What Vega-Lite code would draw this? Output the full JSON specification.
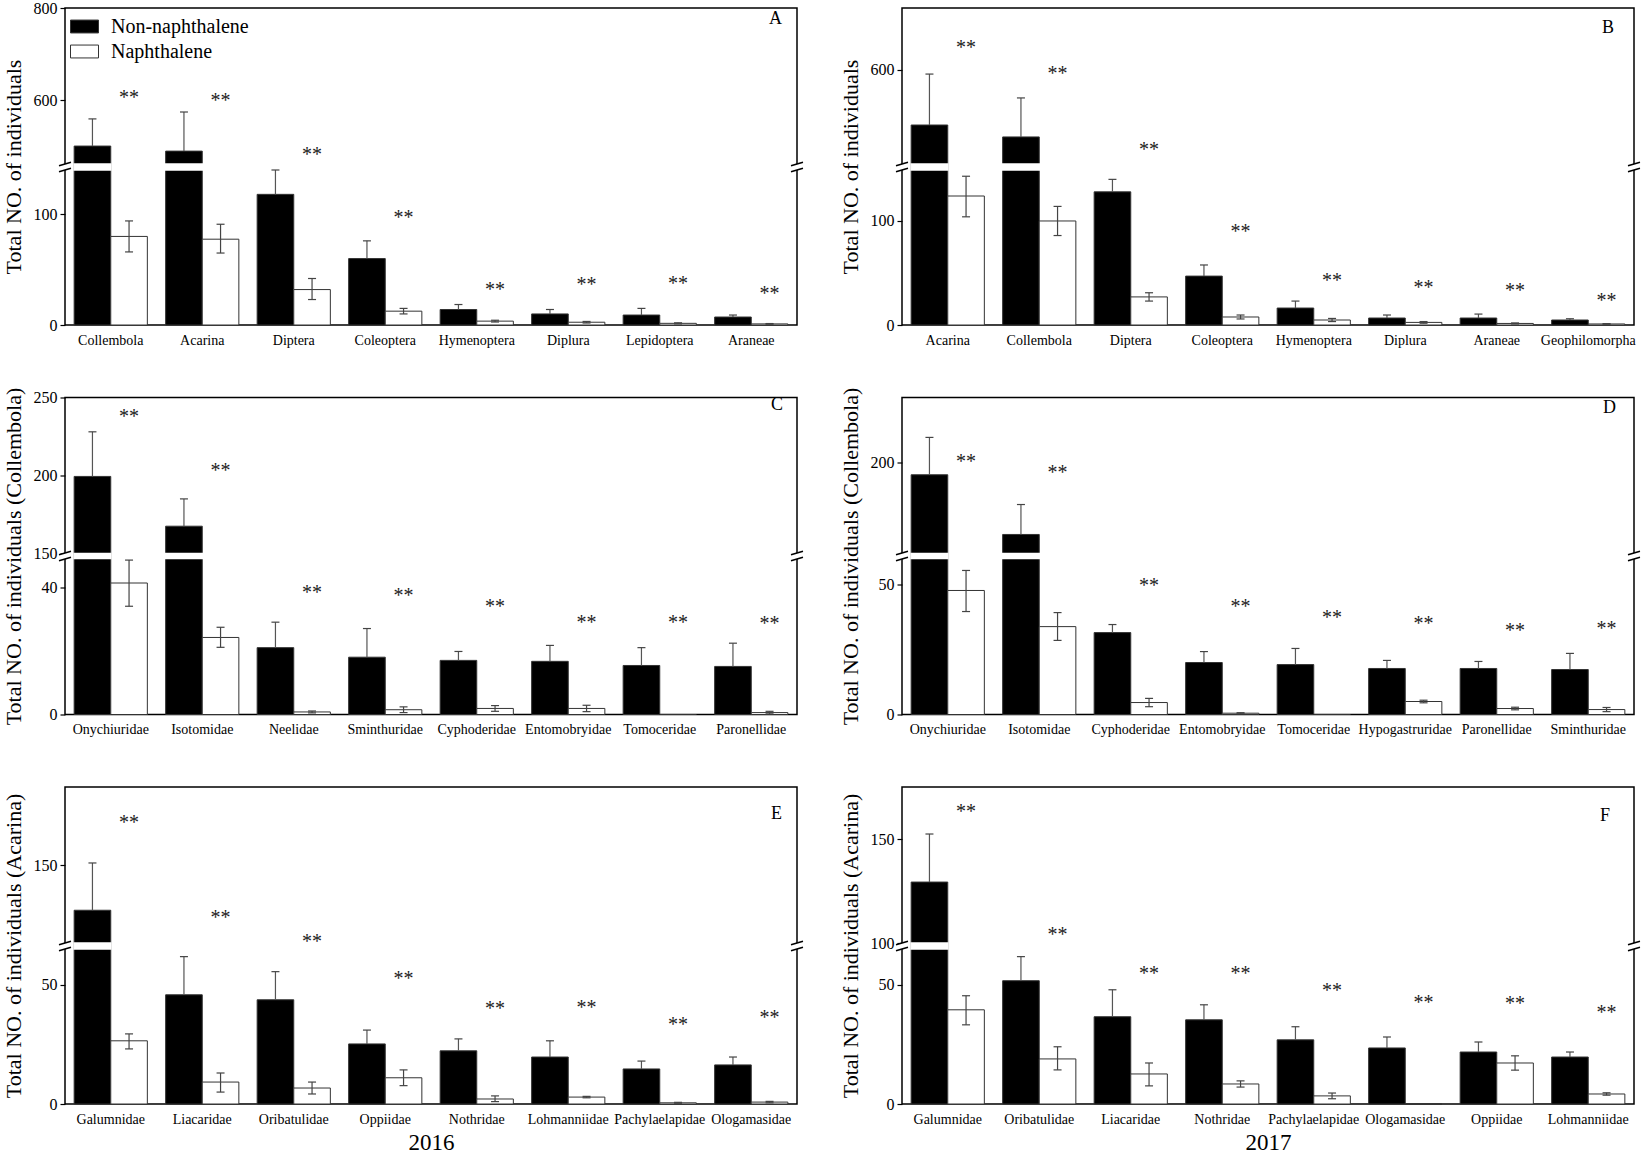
{
  "$schema": "https://vega.github.io/schema/vega-lite/v6.json",
  "padding": {"left": 1, "top": -1, "right": 0, "bottom": 0},
  "config": {
    "font": "Liberation Serif",
    "view": {"stroke": "black", "strokeWidth": 1.5},
    "axis": {"titleFont": "Liberation Serif", "labelFont": "Liberation Serif"},
    "axisY": {"grid": false, "domain": false, "labelFontSize": 16, "labelColor": "black", "labelFont": "Liberation Serif", "tickSize": 5, "tickColor": "black", "tickWidth": 1.2, "labelPadding": 3, "titleFontSize": 22, "titleFontWeight": "normal", "titleColor": "black", "titleFont": "Liberation Serif", "titlePadding": 8},
    "axisX": {"grid": false, "domain": false, "ticks": false, "tickSize": 0, "labelFontSize": 14, "labelColor": "black", "labelFont": "Liberation Serif", "labelPadding": 8, "labelAngle": 0, "titleFontSize": 23, "titleFontWeight": "normal", "titleColor": "black", "titleFont": "Liberation Serif", "titlePadding": 5},
    "title": {"font": "Liberation Serif", "fontSize": 18, "fontWeight": "normal", "color": "black", "anchor": "end", "frame": "group"}
  },
  "datasets": {
    "A": [
      {"taxon": "Collembola", "grp": "Non-naphthalene", "v": 500, "hi": 559},
      {"taxon": "Collembola", "grp": "Naphthalene", "v": 80, "hi": 94, "lo": 66, "star": 613},
      {"taxon": "Acarina", "grp": "Non-naphthalene", "v": 489, "hi": 574},
      {"taxon": "Acarina", "grp": "Naphthalene", "v": 77.5, "hi": 91, "lo": 65, "star": 607},
      {"taxon": "Diptera", "grp": "Non-naphthalene", "v": 118, "hi": 140},
      {"taxon": "Diptera", "grp": "Naphthalene", "v": 32, "hi": 42, "lo": 23, "star": 489},
      {"taxon": "Coleoptera", "grp": "Non-naphthalene", "v": 60, "hi": 76},
      {"taxon": "Coleoptera", "grp": "Naphthalene", "v": 12.5, "hi": 15, "lo": 10, "star": 100},
      {"taxon": "Hymenoptera", "grp": "Non-naphthalene", "v": 14, "hi": 18.5},
      {"taxon": "Hymenoptera", "grp": "Naphthalene", "v": 3.5, "hi": 4.3, "lo": 2.7, "star": 35},
      {"taxon": "Diplura", "grp": "Non-naphthalene", "v": 10, "hi": 14},
      {"taxon": "Diplura", "grp": "Naphthalene", "v": 2.5, "hi": 3.2, "lo": 1.8, "star": 39.5},
      {"taxon": "Lepidoptera", "grp": "Non-naphthalene", "v": 9, "hi": 15},
      {"taxon": "Lepidoptera", "grp": "Naphthalene", "v": 1.5, "hi": 2, "lo": 1, "star": 40.5},
      {"taxon": "Araneae", "grp": "Non-naphthalene", "v": 7.2, "hi": 9},
      {"taxon": "Araneae", "grp": "Naphthalene", "v": 1, "hi": 1.3, "lo": 0.7, "star": 32}
    ],
    "B": [
      {"taxon": "Acarina", "grp": "Non-naphthalene", "v": 480, "hi": 591},
      {"taxon": "Acarina", "grp": "Naphthalene", "v": 124, "hi": 143, "lo": 104, "star": 657},
      {"taxon": "Collembola", "grp": "Non-naphthalene", "v": 454, "hi": 539},
      {"taxon": "Collembola", "grp": "Naphthalene", "v": 100, "hi": 114, "lo": 86, "star": 600},
      {"taxon": "Diptera", "grp": "Non-naphthalene", "v": 128, "hi": 140},
      {"taxon": "Diptera", "grp": "Naphthalene", "v": 27, "hi": 31, "lo": 23, "star": 434},
      {"taxon": "Coleoptera", "grp": "Non-naphthalene", "v": 47, "hi": 57.7},
      {"taxon": "Coleoptera", "grp": "Naphthalene", "v": 7.7, "hi": 9.6, "lo": 5.8, "star": 93},
      {"taxon": "Hymenoptera", "grp": "Non-naphthalene", "v": 16.3, "hi": 23},
      {"taxon": "Hymenoptera", "grp": "Naphthalene", "v": 4.8, "hi": 6.3, "lo": 3.3, "star": 46},
      {"taxon": "Diplura", "grp": "Non-naphthalene", "v": 6.7, "hi": 9.6},
      {"taxon": "Diplura", "grp": "Naphthalene", "v": 2.5, "hi": 3.3, "lo": 1.7, "star": 39.5},
      {"taxon": "Araneae", "grp": "Non-naphthalene", "v": 6.7, "hi": 10.5},
      {"taxon": "Araneae", "grp": "Naphthalene", "v": 1.5, "hi": 2, "lo": 1, "star": 36.5},
      {"taxon": "Geophilomorpha", "grp": "Non-naphthalene", "v": 4.8, "hi": 6},
      {"taxon": "Geophilomorpha", "grp": "Naphthalene", "v": 1, "hi": 1.3, "lo": 0.7, "star": 27}
    ],
    "C": [
      {"taxon": "Onychiuridae", "grp": "Non-naphthalene", "v": 199.4, "hi": 228},
      {"taxon": "Onychiuridae", "grp": "Naphthalene", "v": 41.3, "hi": 48.5, "lo": 34, "star": 240},
      {"taxon": "Isotomidae", "grp": "Non-naphthalene", "v": 167.5, "hi": 185},
      {"taxon": "Isotomidae", "grp": "Naphthalene", "v": 24.2, "hi": 27.4, "lo": 21.1, "star": 205.5},
      {"taxon": "Neelidae", "grp": "Non-naphthalene", "v": 21, "hi": 29},
      {"taxon": "Neelidae", "grp": "Naphthalene", "v": 0.8, "hi": 1.1, "lo": 0.5, "star": 39.4},
      {"taxon": "Sminthuridae", "grp": "Non-naphthalene", "v": 18, "hi": 27},
      {"taxon": "Sminthuridae", "grp": "Naphthalene", "v": 1.5, "hi": 2.4, "lo": 0.6, "star": 38.4},
      {"taxon": "Cyphoderidae", "grp": "Non-naphthalene", "v": 17, "hi": 19.8},
      {"taxon": "Cyphoderidae", "grp": "Naphthalene", "v": 1.9, "hi": 2.8, "lo": 1, "star": 35},
      {"taxon": "Entomobryidae", "grp": "Non-naphthalene", "v": 16.7, "hi": 21.7},
      {"taxon": "Entomobryidae", "grp": "Naphthalene", "v": 1.9, "hi": 2.9, "lo": 0.9, "star": 30},
      {"taxon": "Tomoceridae", "grp": "Non-naphthalene", "v": 15.4, "hi": 21},
      {"taxon": "Tomoceridae", "grp": "Naphthalene", "v": 0, "star": 30},
      {"taxon": "Paronellidae", "grp": "Non-naphthalene", "v": 15.1, "hi": 22.4},
      {"taxon": "Paronellidae", "grp": "Naphthalene", "v": 0.6, "hi": 1, "lo": 0.2, "star": 29.6}
    ],
    "D": [
      {"taxon": "Onychiuridae", "grp": "Non-naphthalene", "v": 193.4, "hi": 214},
      {"taxon": "Onychiuridae", "grp": "Naphthalene", "v": 47.7, "hi": 55.4, "lo": 39.6, "star": 202.7},
      {"taxon": "Isotomidae", "grp": "Non-naphthalene", "v": 160.5, "hi": 177},
      {"taxon": "Isotomidae", "grp": "Naphthalene", "v": 33.8, "hi": 39.2, "lo": 28.5, "star": 196.7},
      {"taxon": "Cyphoderidae", "grp": "Non-naphthalene", "v": 31.5, "hi": 34.6},
      {"taxon": "Cyphoderidae", "grp": "Naphthalene", "v": 4.6, "hi": 6.2, "lo": 3, "star": 50.8},
      {"taxon": "Entomobryidae", "grp": "Non-naphthalene", "v": 20, "hi": 24.2},
      {"taxon": "Entomobryidae", "grp": "Naphthalene", "v": 0.5, "hi": 0.7, "lo": 0.3, "star": 42.7},
      {"taxon": "Tomoceridae", "grp": "Non-naphthalene", "v": 19.2, "hi": 25.4},
      {"taxon": "Tomoceridae", "grp": "Naphthalene", "v": 0, "star": 38.8},
      {"taxon": "Hypogastruridae", "grp": "Non-naphthalene", "v": 17.7, "hi": 20.8},
      {"taxon": "Hypogastruridae", "grp": "Naphthalene", "v": 5, "hi": 5.5, "lo": 4.5, "star": 36.5},
      {"taxon": "Paronellidae", "grp": "Non-naphthalene", "v": 17.7, "hi": 20.4},
      {"taxon": "Paronellidae", "grp": "Naphthalene", "v": 2.3, "hi": 2.8, "lo": 1.8, "star": 33.5},
      {"taxon": "Sminthuridae", "grp": "Non-naphthalene", "v": 17.3, "hi": 23.5},
      {"taxon": "Sminthuridae", "grp": "Naphthalene", "v": 1.9, "hi": 2.7, "lo": 1.1, "star": 34.6}
    ],
    "E": [
      {"taxon": "Galumnidae", "grp": "Non-naphthalene", "v": 121, "hi": 151.3},
      {"taxon": "Galumnidae", "grp": "Naphthalene", "v": 26.5, "hi": 29.4, "lo": 23.1, "star": 179.5},
      {"taxon": "Liacaridae", "grp": "Non-naphthalene", "v": 45.8, "hi": 61.8},
      {"taxon": "Liacaridae", "grp": "Naphthalene", "v": 9.2, "hi": 13, "lo": 5, "star": 118.6},
      {"taxon": "Oribatulidae", "grp": "Non-naphthalene", "v": 43.7, "hi": 55.5},
      {"taxon": "Oribatulidae", "grp": "Naphthalene", "v": 6.7, "hi": 9.2, "lo": 4.2, "star": 103},
      {"taxon": "Oppiidae", "grp": "Non-naphthalene", "v": 25.2, "hi": 31},
      {"taxon": "Oppiidae", "grp": "Naphthalene", "v": 11, "hi": 14.3, "lo": 7.7, "star": 54.2},
      {"taxon": "Nothridae", "grp": "Non-naphthalene", "v": 22.3, "hi": 27.3},
      {"taxon": "Nothridae", "grp": "Naphthalene", "v": 2.1, "hi": 3.4, "lo": 1, "star": 41.6},
      {"taxon": "Lohmanniidae", "grp": "Non-naphthalene", "v": 19.7, "hi": 26.5},
      {"taxon": "Lohmanniidae", "grp": "Naphthalene", "v": 2.9, "hi": 3.2, "lo": 2.6, "star": 42},
      {"taxon": "Pachylaelapidae", "grp": "Non-naphthalene", "v": 14.7, "hi": 18},
      {"taxon": "Pachylaelapidae", "grp": "Naphthalene", "v": 0.5, "hi": 0.7, "lo": 0.3, "star": 34.9},
      {"taxon": "Ologamasidae", "grp": "Non-naphthalene", "v": 16.4, "hi": 19.7},
      {"taxon": "Ologamasidae", "grp": "Naphthalene", "v": 0.8, "hi": 1.1, "lo": 0.5, "star": 37.8}
    ],
    "F": [
      {"taxon": "Galumnidae", "grp": "Non-naphthalene", "v": 129.3, "hi": 152.4},
      {"taxon": "Galumnidae", "grp": "Naphthalene", "v": 39.5, "hi": 45.4, "lo": 33.2, "star": 165},
      {"taxon": "Oribatulidae", "grp": "Non-naphthalene", "v": 51.7, "hi": 61.8},
      {"taxon": "Oribatulidae", "grp": "Naphthalene", "v": 18.9, "hi": 24, "lo": 14.3, "star": 106},
      {"taxon": "Liacaridae", "grp": "Non-naphthalene", "v": 36.6, "hi": 47.9},
      {"taxon": "Liacaridae", "grp": "Naphthalene", "v": 12.6, "hi": 17.2, "lo": 7.6, "star": 56.3},
      {"taxon": "Nothridae", "grp": "Non-naphthalene", "v": 35.3, "hi": 41.6},
      {"taxon": "Nothridae", "grp": "Naphthalene", "v": 8.4, "hi": 9.7, "lo": 7.1, "star": 56.3},
      {"taxon": "Pachylaelapidae", "grp": "Non-naphthalene", "v": 26.9, "hi": 32.4},
      {"taxon": "Pachylaelapidae", "grp": "Naphthalene", "v": 3.4, "hi": 4.6, "lo": 2.2, "star": 49.2},
      {"taxon": "Ologamasidae", "grp": "Non-naphthalene", "v": 23.5, "hi": 28.1},
      {"taxon": "Ologamasidae", "grp": "Naphthalene", "v": 0, "star": 44.1},
      {"taxon": "Oppiidae", "grp": "Non-naphthalene", "v": 21.8, "hi": 26},
      {"taxon": "Oppiidae", "grp": "Naphthalene", "v": 17.2, "hi": 20.2, "lo": 14.2, "star": 43.7},
      {"taxon": "Lohmanniidae", "grp": "Non-naphthalene", "v": 19.7, "hi": 21.8},
      {"taxon": "Lohmanniidae", "grp": "Naphthalene", "v": 4.2, "hi": 4.7, "lo": 3.7, "star": 39.9}
    ]
  },
  "columns": 2,
  "bounds": "flush",
  "spacing": {"row": 72.5, "column": 105},
  "resolve": {"scale": {"x": "independent", "y": "independent", "fill": "independent", "xOffset": "independent"}, "legend": {"fill": "independent"}},
  "concat": [
    {
      "width": 732, "height": 317,
      "title": {"text": "A", "offset": -28, "dx": -15},
      "layer": [
        {
          "data": {"name": "A"},
          "encoding": {
            "x": {"field": "taxon", "type": "nominal", "scale": {"domain": ["Collembola", "Acarina", "Diptera", "Coleoptera", "Hymenoptera", "Diplura", "Lepidoptera", "Araneae"], "paddingInner": 0.2, "paddingOuter": 0.1}, "axis": {"title": null}},
            "xOffset": {"field": "grp", "type": "nominal", "scale": {"domain": ["Non-naphthalene", "Naphthalene"], "paddingInner": 0, "paddingOuter": 0}}
          },
          "layer": [
            {"mark": {"type": "bar", "stroke": "#333", "strokeWidth": 1},
             "encoding": {
               "y": {"field": "v", "type": "quantitative", "scale": {"domain": [0, 140, 461, 800], "range": [317, 162, 156, 0], "nice": false, "zero": false}, "axis": {"title": "Total NO. of individuals", "titleFont": "Liberation Serif", "values": [0, 100, 600, 800]}},
               "fill": {"field": "grp", "type": "nominal", "scale": {"domain": ["Non-naphthalene", "Naphthalene"], "range": ["black", "white"]},
                        "legend": {"title": null, "orient": "none", "legendX": 5, "legendY": 4, "symbolType": "M-1,-0.46L1,-0.46L1,0.46L-1,0.46Z", "symbolSize": 784, "symbolStrokeColor": "#333", "symbolStrokeWidth": 1, "labelFontSize": 20, "labelFont": "Liberation Serif", "labelColor": "black", "labelOffset": 12, "rowPadding": 0}}
             }},
            {"transform": [{"filter": "datum.v > 140"}], "mark": {"type": "bar", "fill": "white", "stroke": "white", "strokeWidth": 1.5},
             "encoding": {"y": {"datum": 140}, "y2": {"datum": 461}}},
            {"transform": [{"filter": "datum.grp == 'Non-naphthalene'"}], "mark": {"type": "rule", "color": "#555", "strokeWidth": 1.2},
             "encoding": {"y": {"field": "v", "type": "quantitative"}, "y2": {"field": "hi"}}},
            {"transform": [{"filter": "datum.lo != null"}], "mark": {"type": "rule", "color": "#444", "strokeWidth": 1.2},
             "encoding": {"y": {"field": "lo", "type": "quantitative"}, "y2": {"field": "hi"}}},
            {"transform": [{"filter": "datum.hi != null"}], "mark": {"type": "tick", "orient": "horizontal", "color": "#444", "thickness": 1.2, "size": 8, "opacity": 1},
             "encoding": {"y": {"field": "hi", "type": "quantitative"}}},
            {"transform": [{"filter": "datum.lo != null"}], "mark": {"type": "tick", "orient": "horizontal", "color": "#444", "thickness": 1.2, "size": 8, "opacity": 1},
             "encoding": {"y": {"field": "lo", "type": "quantitative"}}},
            {"transform": [{"filter": "datum.star != null"}], "mark": {"type": "text", "text": "**", "fontSize": 20, "baseline": "alphabetic", "dy": 10, "color": "#222"},
             "encoding": {"y": {"field": "star", "type": "quantitative"}}}
          ]
        },
        {
          "data": {"values": [{"side": 0}, {"side": 1}]},
          "encoding": {"x": {"field": "side", "type": "quantitative", "scale": {"domain": [0, 1]}, "axis": null}, "y": {"datum": 300.5, "type": "quantitative"}},
          "layer": [
            {"mark": {"type": "point", "shape": "M-1,-0.2L1,-0.8L1,0.2L-1,0.8Z", "filled": true, "fill": "white", "strokeWidth": 0, "size": 144, "opacity": 1}},
            {"mark": {"type": "point", "shape": "M-1,-0.2L1,-0.8M-1,0.8L1,0.2", "filled": false, "stroke": "black", "strokeWidth": 1.5, "size": 144, "opacity": 1}}
          ]
        }
      ],
      "resolve": {"scale": {"x": "independent"}}
    },
    {
      "width": 732, "height": 317,
      "title": {"text": "B", "offset": -29, "dx": -20},
      "layer": [
        {
          "data": {"name": "B"},
          "encoding": {
            "x": {"field": "taxon", "type": "nominal", "scale": {"domain": ["Acarina", "Collembola", "Diptera", "Coleoptera", "Hymenoptera", "Diplura", "Araneae", "Geophilomorpha"], "paddingInner": 0.2, "paddingOuter": 0.1}, "axis": {"title": null}},
            "xOffset": {"field": "grp", "type": "nominal", "scale": {"domain": ["Non-naphthalene", "Naphthalene"], "paddingInner": 0, "paddingOuter": 0}}
          },
          "layer": [
            {"mark": {"type": "bar", "stroke": "#333", "strokeWidth": 1},
             "encoding": {
               "y": {"field": "v", "type": "quantitative", "scale": {"domain": [0, 149, 395, 735], "range": [317, 162, 156, 0], "nice": false, "zero": false}, "axis": {"title": "Total NO. of individuals", "titleFont": "Liberation Serif", "values": [0, 100, 600]}},
               "fill": {"field": "grp", "type": "nominal", "scale": {"domain": ["Non-naphthalene", "Naphthalene"], "range": ["black", "white"]}, "legend": null}
             }},
            {"transform": [{"filter": "datum.v > 149"}], "mark": {"type": "bar", "fill": "white", "stroke": "white", "strokeWidth": 1.5},
             "encoding": {"y": {"datum": 149}, "y2": {"datum": 395}}},
            {"transform": [{"filter": "datum.grp == 'Non-naphthalene'"}], "mark": {"type": "rule", "color": "#555", "strokeWidth": 1.2},
             "encoding": {"y": {"field": "v", "type": "quantitative"}, "y2": {"field": "hi"}}},
            {"transform": [{"filter": "datum.lo != null"}], "mark": {"type": "rule", "color": "#444", "strokeWidth": 1.2},
             "encoding": {"y": {"field": "lo", "type": "quantitative"}, "y2": {"field": "hi"}}},
            {"transform": [{"filter": "datum.hi != null"}], "mark": {"type": "tick", "orient": "horizontal", "color": "#444", "thickness": 1.2, "size": 8, "opacity": 1},
             "encoding": {"y": {"field": "hi", "type": "quantitative"}}},
            {"transform": [{"filter": "datum.lo != null"}], "mark": {"type": "tick", "orient": "horizontal", "color": "#444", "thickness": 1.2, "size": 8, "opacity": 1},
             "encoding": {"y": {"field": "lo", "type": "quantitative"}}},
            {"transform": [{"filter": "datum.star != null"}], "mark": {"type": "text", "text": "**", "fontSize": 20, "baseline": "alphabetic", "dy": 10, "color": "#222"},
             "encoding": {"y": {"field": "star", "type": "quantitative"}}}
          ]
        },
        {
          "data": {"values": [{"side": 0}, {"side": 1}]},
          "encoding": {"x": {"field": "side", "type": "quantitative", "scale": {"domain": [0, 1]}, "axis": null}, "y": {"datum": 272, "type": "quantitative"}},
          "layer": [
            {"mark": {"type": "point", "shape": "M-1,-0.2L1,-0.8L1,0.2L-1,0.8Z", "filled": true, "fill": "white", "strokeWidth": 0, "size": 144, "opacity": 1}},
            {"mark": {"type": "point", "shape": "M-1,-0.2L1,-0.8M-1,0.8L1,0.2", "filled": false, "stroke": "black", "strokeWidth": 1.5, "size": 144, "opacity": 1}}
          ]
        }
      ],
      "resolve": {"scale": {"x": "independent"}}
    },
    {
      "width": 732, "height": 317,
      "title": {"text": "C", "offset": -27, "dx": -14},
      "layer": [
        {
          "data": {"name": "C"},
          "encoding": {
            "x": {"field": "taxon", "type": "nominal", "scale": {"domain": ["Onychiuridae", "Isotomidae", "Neelidae", "Sminthuridae", "Cyphoderidae", "Entomobryidae", "Tomoceridae", "Paronellidae"], "paddingInner": 0.2, "paddingOuter": 0.1}, "axis": {"title": null}},
            "xOffset": {"field": "grp", "type": "nominal", "scale": {"domain": ["Non-naphthalene", "Naphthalene"], "paddingInner": 0, "paddingOuter": 0}}
          },
          "layer": [
            {"mark": {"type": "bar", "stroke": "#333", "strokeWidth": 1},
             "encoding": {
               "y": {"field": "v", "type": "quantitative", "scale": {"domain": [0, 49, 150, 250], "range": [317, 161, 156, 0], "nice": false, "zero": false}, "axis": {"title": "Total NO. of individuals (Collembola)", "titleFont": "Liberation Serif", "values": [0, 40, 150, 200, 250]}},
               "fill": {"field": "grp", "type": "nominal", "scale": {"domain": ["Non-naphthalene", "Naphthalene"], "range": ["black", "white"]}, "legend": null}
             }},
            {"transform": [{"filter": "datum.v > 49"}], "mark": {"type": "bar", "fill": "white", "stroke": "white", "strokeWidth": 1.5},
             "encoding": {"y": {"datum": 49}, "y2": {"datum": 150}}},
            {"transform": [{"filter": "datum.grp == 'Non-naphthalene'"}], "mark": {"type": "rule", "color": "#555", "strokeWidth": 1.2},
             "encoding": {"y": {"field": "v", "type": "quantitative"}, "y2": {"field": "hi"}}},
            {"transform": [{"filter": "datum.lo != null"}], "mark": {"type": "rule", "color": "#444", "strokeWidth": 1.2},
             "encoding": {"y": {"field": "lo", "type": "quantitative"}, "y2": {"field": "hi"}}},
            {"transform": [{"filter": "datum.hi != null"}], "mark": {"type": "tick", "orient": "horizontal", "color": "#444", "thickness": 1.2, "size": 8, "opacity": 1},
             "encoding": {"y": {"field": "hi", "type": "quantitative"}}},
            {"transform": [{"filter": "datum.lo != null"}], "mark": {"type": "tick", "orient": "horizontal", "color": "#444", "thickness": 1.2, "size": 8, "opacity": 1},
             "encoding": {"y": {"field": "lo", "type": "quantitative"}}},
            {"transform": [{"filter": "datum.star != null"}], "mark": {"type": "text", "text": "**", "fontSize": 20, "baseline": "alphabetic", "dy": 10, "color": "#222"},
             "encoding": {"y": {"field": "star", "type": "quantitative"}}}
          ]
        },
        {
          "data": {"values": [{"side": 0}, {"side": 1}]},
          "encoding": {"x": {"field": "side", "type": "quantitative", "scale": {"domain": [0, 1]}, "axis": null}, "y": {"datum": 99.5, "type": "quantitative"}},
          "layer": [
            {"mark": {"type": "point", "shape": "M-1,-0.2L1,-0.8L1,0.2L-1,0.8Z", "filled": true, "fill": "white", "strokeWidth": 0, "size": 144, "opacity": 1}},
            {"mark": {"type": "point", "shape": "M-1,-0.2L1,-0.8M-1,0.8L1,0.2", "filled": false, "stroke": "black", "strokeWidth": 1.5, "size": 144, "opacity": 1}}
          ]
        }
      ],
      "resolve": {"scale": {"x": "independent"}}
    },
    {
      "width": 732, "height": 317,
      "title": {"text": "D", "offset": -30, "dx": -18},
      "layer": [
        {
          "data": {"name": "D"},
          "encoding": {
            "x": {"field": "taxon", "type": "nominal", "scale": {"domain": ["Onychiuridae", "Isotomidae", "Cyphoderidae", "Entomobryidae", "Tomoceridae", "Hypogastruridae", "Paronellidae", "Sminthuridae"], "paddingInner": 0.2, "paddingOuter": 0.1}, "axis": {"title": null}},
            "xOffset": {"field": "grp", "type": "nominal", "scale": {"domain": ["Non-naphthalene", "Naphthalene"], "paddingInner": 0, "paddingOuter": 0}}
          },
          "layer": [
            {"mark": {"type": "bar", "stroke": "#333", "strokeWidth": 1},
             "encoding": {
               "y": {"field": "v", "type": "quantitative", "scale": {"domain": [0, 60, 150, 236], "range": [317, 161, 156, 0], "nice": false, "zero": false}, "axis": {"title": "Total NO. of individuals (Collembola)", "titleFont": "Liberation Serif", "values": [0, 50, 200]}},
               "fill": {"field": "grp", "type": "nominal", "scale": {"domain": ["Non-naphthalene", "Naphthalene"], "range": ["black", "white"]}, "legend": null}
             }},
            {"transform": [{"filter": "datum.v > 60"}], "mark": {"type": "bar", "fill": "white", "stroke": "white", "strokeWidth": 1.5},
             "encoding": {"y": {"datum": 60}, "y2": {"datum": 150}}},
            {"transform": [{"filter": "datum.grp == 'Non-naphthalene'"}], "mark": {"type": "rule", "color": "#555", "strokeWidth": 1.2},
             "encoding": {"y": {"field": "v", "type": "quantitative"}, "y2": {"field": "hi"}}},
            {"transform": [{"filter": "datum.lo != null"}], "mark": {"type": "rule", "color": "#444", "strokeWidth": 1.2},
             "encoding": {"y": {"field": "lo", "type": "quantitative"}, "y2": {"field": "hi"}}},
            {"transform": [{"filter": "datum.hi != null"}], "mark": {"type": "tick", "orient": "horizontal", "color": "#444", "thickness": 1.2, "size": 8, "opacity": 1},
             "encoding": {"y": {"field": "hi", "type": "quantitative"}}},
            {"transform": [{"filter": "datum.lo != null"}], "mark": {"type": "tick", "orient": "horizontal", "color": "#444", "thickness": 1.2, "size": 8, "opacity": 1},
             "encoding": {"y": {"field": "lo", "type": "quantitative"}}},
            {"transform": [{"filter": "datum.star != null"}], "mark": {"type": "text", "text": "**", "fontSize": 20, "baseline": "alphabetic", "dy": 10, "color": "#222"},
             "encoding": {"y": {"field": "star", "type": "quantitative"}}}
          ]
        },
        {
          "data": {"values": [{"side": 0}, {"side": 1}]},
          "encoding": {"x": {"field": "side", "type": "quantitative", "scale": {"domain": [0, 1]}, "axis": null}, "y": {"datum": 105, "type": "quantitative"}},
          "layer": [
            {"mark": {"type": "point", "shape": "M-1,-0.2L1,-0.8L1,0.2L-1,0.8Z", "filled": true, "fill": "white", "strokeWidth": 0, "size": 144, "opacity": 1}},
            {"mark": {"type": "point", "shape": "M-1,-0.2L1,-0.8M-1,0.8L1,0.2", "filled": false, "stroke": "black", "strokeWidth": 1.5, "size": 144, "opacity": 1}}
          ]
        }
      ],
      "resolve": {"scale": {"x": "independent"}}
    },
    {
      "width": 732, "height": 317,
      "title": {"text": "E", "offset": -36, "dx": -15},
      "layer": [
        {
          "data": {"name": "E"},
          "encoding": {
            "x": {"field": "taxon", "type": "nominal", "scale": {"domain": ["Galumnidae", "Liacaridae", "Oribatulidae", "Oppiidae", "Nothridae", "Lohmanniidae", "Pachylaelapidae", "Ologamasidae"], "paddingInner": 0.2, "paddingOuter": 0.1}, "axis": {"title": "2016", "titleFont": "Liberation Serif"}},
            "xOffset": {"field": "grp", "type": "nominal", "scale": {"domain": ["Non-naphthalene", "Naphthalene"], "paddingInner": 0, "paddingOuter": 0}}
          },
          "layer": [
            {"mark": {"type": "bar", "stroke": "#333", "strokeWidth": 1},
             "encoding": {
               "y": {"field": "v", "type": "quantitative", "scale": {"domain": [0, 65, 100, 200], "range": [317, 162, 156, 0], "nice": false, "zero": false}, "axis": {"title": "Total NO. of individuals (Acarina)", "titleFont": "Liberation Serif", "values": [0, 50, 150]}},
               "fill": {"field": "grp", "type": "nominal", "scale": {"domain": ["Non-naphthalene", "Naphthalene"], "range": ["black", "white"]}, "legend": null}
             }},
            {"transform": [{"filter": "datum.v > 65"}], "mark": {"type": "bar", "fill": "white", "stroke": "white", "strokeWidth": 1.5},
             "encoding": {"y": {"datum": 65}, "y2": {"datum": 100}}},
            {"transform": [{"filter": "datum.grp == 'Non-naphthalene'"}], "mark": {"type": "rule", "color": "#555", "strokeWidth": 1.2},
             "encoding": {"y": {"field": "v", "type": "quantitative"}, "y2": {"field": "hi"}}},
            {"transform": [{"filter": "datum.lo != null"}], "mark": {"type": "rule", "color": "#444", "strokeWidth": 1.2},
             "encoding": {"y": {"field": "lo", "type": "quantitative"}, "y2": {"field": "hi"}}},
            {"transform": [{"filter": "datum.hi != null"}], "mark": {"type": "tick", "orient": "horizontal", "color": "#444", "thickness": 1.2, "size": 8, "opacity": 1},
             "encoding": {"y": {"field": "hi", "type": "quantitative"}}},
            {"transform": [{"filter": "datum.lo != null"}], "mark": {"type": "tick", "orient": "horizontal", "color": "#444", "thickness": 1.2, "size": 8, "opacity": 1},
             "encoding": {"y": {"field": "lo", "type": "quantitative"}}},
            {"transform": [{"filter": "datum.star != null"}], "mark": {"type": "text", "text": "**", "fontSize": 20, "baseline": "alphabetic", "dy": 10, "color": "#222"},
             "encoding": {"y": {"field": "star", "type": "quantitative"}}}
          ]
        },
        {
          "data": {"values": [{"side": 0}, {"side": 1}]},
          "encoding": {"x": {"field": "side", "type": "quantitative", "scale": {"domain": [0, 1]}, "axis": null}, "y": {"datum": 82.5, "type": "quantitative"}},
          "layer": [
            {"mark": {"type": "point", "shape": "M-1,-0.2L1,-0.8L1,0.2L-1,0.8Z", "filled": true, "fill": "white", "strokeWidth": 0, "size": 144, "opacity": 1}},
            {"mark": {"type": "point", "shape": "M-1,-0.2L1,-0.8M-1,0.8L1,0.2", "filled": false, "stroke": "black", "strokeWidth": 1.5, "size": 144, "opacity": 1}}
          ]
        }
      ],
      "resolve": {"scale": {"x": "independent"}}
    },
    {
      "width": 732, "height": 317,
      "title": {"text": "F", "offset": -38, "dx": -24},
      "layer": [
        {
          "data": {"name": "F"},
          "encoding": {
            "x": {"field": "taxon", "type": "nominal", "scale": {"domain": ["Galumnidae", "Oribatulidae", "Liacaridae", "Nothridae", "Pachylaelapidae", "Ologamasidae", "Oppiidae", "Lohmanniidae"], "paddingInner": 0.2, "paddingOuter": 0.1}, "axis": {"title": "2017", "titleFont": "Liberation Serif"}},
            "xOffset": {"field": "grp", "type": "nominal", "scale": {"domain": ["Non-naphthalene", "Naphthalene"], "paddingInner": 0, "paddingOuter": 0}}
          },
          "layer": [
            {"mark": {"type": "bar", "stroke": "#333", "strokeWidth": 1},
             "encoding": {
               "y": {"field": "v", "type": "quantitative", "scale": {"domain": [0, 65, 100, 175], "range": [317, 162, 156, 0], "nice": false, "zero": false}, "axis": {"title": "Total NO. of individuals  (Acarina)", "titleFont": "Liberation Serif", "values": [0, 50, 100, 150]}},
               "fill": {"field": "grp", "type": "nominal", "scale": {"domain": ["Non-naphthalene", "Naphthalene"], "range": ["black", "white"]}, "legend": null}
             }},
            {"transform": [{"filter": "datum.v > 65"}], "mark": {"type": "bar", "fill": "white", "stroke": "white", "strokeWidth": 1.5},
             "encoding": {"y": {"datum": 65}, "y2": {"datum": 100}}},
            {"transform": [{"filter": "datum.grp == 'Non-naphthalene'"}], "mark": {"type": "rule", "color": "#555", "strokeWidth": 1.2},
             "encoding": {"y": {"field": "v", "type": "quantitative"}, "y2": {"field": "hi"}}},
            {"transform": [{"filter": "datum.lo != null"}], "mark": {"type": "rule", "color": "#444", "strokeWidth": 1.2},
             "encoding": {"y": {"field": "lo", "type": "quantitative"}, "y2": {"field": "hi"}}},
            {"transform": [{"filter": "datum.hi != null"}], "mark": {"type": "tick", "orient": "horizontal", "color": "#444", "thickness": 1.2, "size": 8, "opacity": 1},
             "encoding": {"y": {"field": "hi", "type": "quantitative"}}},
            {"transform": [{"filter": "datum.lo != null"}], "mark": {"type": "tick", "orient": "horizontal", "color": "#444", "thickness": 1.2, "size": 8, "opacity": 1},
             "encoding": {"y": {"field": "lo", "type": "quantitative"}}},
            {"transform": [{"filter": "datum.star != null"}], "mark": {"type": "text", "text": "**", "fontSize": 20, "baseline": "alphabetic", "dy": 10, "color": "#222"},
             "encoding": {"y": {"field": "star", "type": "quantitative"}}}
          ]
        },
        {
          "data": {"values": [{"side": 0}, {"side": 1}]},
          "encoding": {"x": {"field": "side", "type": "quantitative", "scale": {"domain": [0, 1]}, "axis": null}, "y": {"datum": 82.5, "type": "quantitative"}},
          "layer": [
            {"mark": {"type": "point", "shape": "M-1,-0.2L1,-0.8L1,0.2L-1,0.8Z", "filled": true, "fill": "white", "strokeWidth": 0, "size": 144, "opacity": 1}},
            {"mark": {"type": "point", "shape": "M-1,-0.2L1,-0.8M-1,0.8L1,0.2", "filled": false, "stroke": "black", "strokeWidth": 1.5, "size": 144, "opacity": 1}}
          ]
        }
      ],
      "resolve": {"scale": {"x": "independent"}}
    }
  ]
}
